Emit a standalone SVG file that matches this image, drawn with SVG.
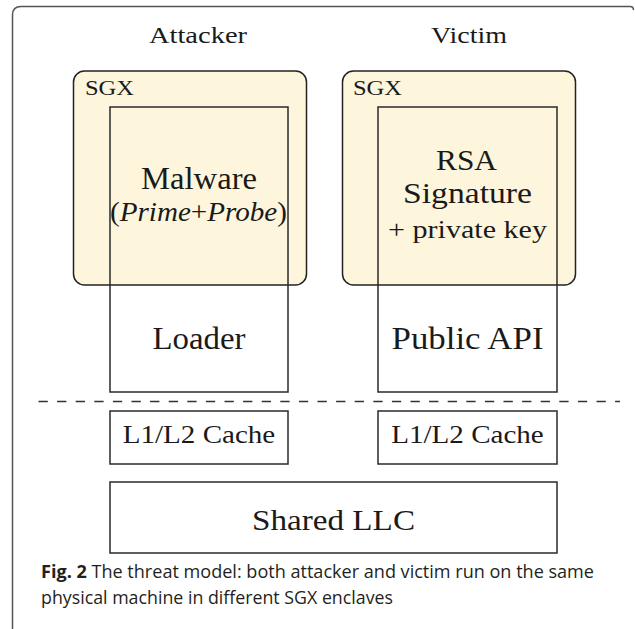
<svg xmlns="http://www.w3.org/2000/svg" width="635" height="629" viewBox="0 0 635 629">
<style>
  .serif { font-family: "Liberation Serif", "DejaVu Serif", serif; fill: #1a1a1a; }
  .sgx { fill: #fdf6dc; stroke: #222; stroke-width: 1.5; }
  .box { fill: none; stroke: #2a2a2a; stroke-width: 1.5; }
  .cap { font-family: "Open Sans", "Noto Sans", "Liberation Sans", sans-serif; fill: #231f20; }
</style>
<rect width="635" height="629" fill="#ffffff"/>
<path d="M12.5,629 V15 Q12.5,6.5 21,6.5 H630 Q633.5,6.5 633.5,10" fill="none" stroke="#555" stroke-width="1.5"/>

<g id="title-attacker">
  <text class="serif" x="198" y="43" font-size="24" text-anchor="middle" textLength="98" lengthAdjust="spacingAndGlyphs">Attacker</text>
</g>
<g id="title-victim">
  <text class="serif" x="469" y="43" font-size="24" text-anchor="middle" textLength="76" lengthAdjust="spacingAndGlyphs">Victim</text>
</g>

<g id="sgx-attacker">
  <rect class="sgx" x="73.5" y="71" width="233" height="214" rx="11"/>
  <text class="serif" x="85" y="95" font-size="21" textLength="49" lengthAdjust="spacingAndGlyphs">SGX</text>
</g>
<g id="sgx-victim">
  <rect class="sgx" x="342.5" y="71" width="233" height="214" rx="11"/>
  <text class="serif" x="353" y="95" font-size="21" textLength="49" lengthAdjust="spacingAndGlyphs">SGX</text>
</g>

<g id="attacker-app">
  <rect class="box" x="110" y="107" width="178" height="285"/>
  <text class="serif" x="141" y="189" font-size="31" textLength="116" lengthAdjust="spacingAndGlyphs">Malware</text>
  <text class="serif" x="110" y="221" font-size="27" textLength="177" lengthAdjust="spacingAndGlyphs">(<tspan font-style="italic">Prime</tspan>+<tspan font-style="italic">Probe</tspan>)</text>
  <text class="serif" x="199" y="349" font-size="31" text-anchor="middle" textLength="93" lengthAdjust="spacingAndGlyphs">Loader</text>
</g>

<g id="victim-app">
  <rect class="box" x="378" y="107" width="179" height="285"/>
  <text class="serif" x="436" y="170" font-size="30" textLength="61" lengthAdjust="spacingAndGlyphs">RSA</text>
  <text class="serif" x="403" y="203" font-size="30" textLength="129" lengthAdjust="spacingAndGlyphs">Signature</text>
  <text class="serif" x="388" y="238" font-size="25" textLength="159" lengthAdjust="spacingAndGlyphs">+ private key</text>
  <text class="serif" x="467.5" y="349" font-size="31" text-anchor="middle" textLength="152" lengthAdjust="spacingAndGlyphs">Public API</text>
</g>

<g id="connectors">
  <line x1="38.5" y1="401.5" x2="620" y2="401.5" stroke="#333" stroke-width="1.3" stroke-dasharray="9.3 9.3"/>
</g>

<g id="cache-attacker">
  <rect class="box" x="110" y="411" width="178" height="53"/>
  <text class="serif" x="199" y="443" font-size="25" text-anchor="middle" textLength="152.5" lengthAdjust="spacingAndGlyphs">L1/L2 Cache</text>
</g>
<g id="cache-victim">
  <rect class="box" x="378" y="411" width="179" height="53"/>
  <text class="serif" x="467.5" y="443" font-size="25" text-anchor="middle" textLength="152.5" lengthAdjust="spacingAndGlyphs">L1/L2 Cache</text>
</g>

<g id="shared-llc">
  <rect class="box" x="110" y="482" width="447" height="71"/>
  <text class="serif" x="333.5" y="530" font-size="30" text-anchor="middle" textLength="163" lengthAdjust="spacingAndGlyphs">Shared LLC</text>
</g>

<g id="caption">
  <text class="cap" x="41" y="578" font-size="18.5" textLength="553" lengthAdjust="spacingAndGlyphs"><tspan font-weight="bold">Fig. 2</tspan> The threat model: both attacker and victim run on the same</text>
  <text class="cap" x="41" y="604" font-size="18.5" textLength="352" lengthAdjust="spacingAndGlyphs">physical machine in different SGX enclaves</text>
</g>
</svg>
